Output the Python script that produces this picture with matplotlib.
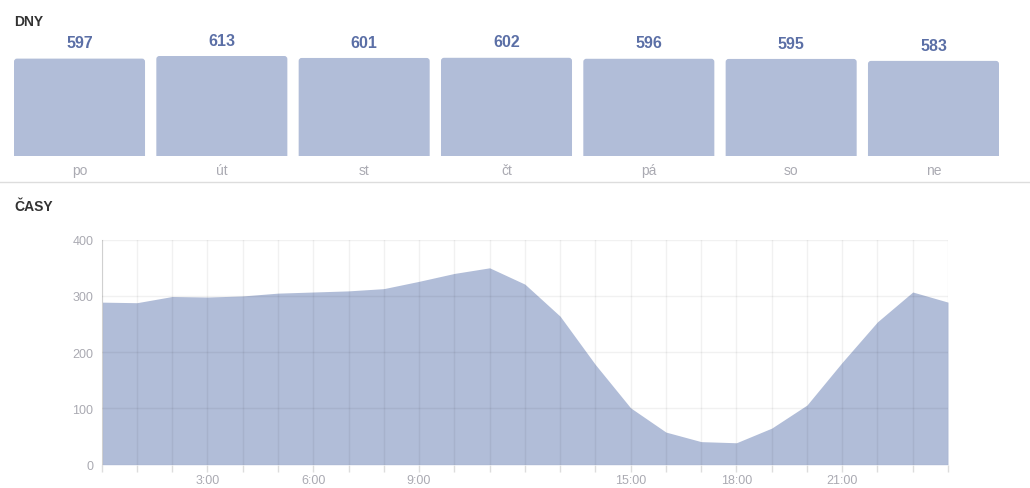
import numpy as np
import matplotlib.pyplot as plt
from matplotlib.patches import FancyBboxPatch

# day totals (po..ne)
days = ['po', 'út', 'st', 'čt', 'pá', 'so', 'ne']
day_counts = [597, 613, 601, 602, 596, 595, 583]

# hourly profile, 0:00 .. 24:00
hours = list(range(25))
hour_counts = [289, 288, 299, 298, 300, 305, 307, 309, 313, 326, 340, 350,
               321, 264, 178, 101, 58, 41, 39, 65, 106, 182, 254, 307, 289]
hour_labels = {3: '3:00', 6: '6:00', 9: '9:00', 15: '15:00', 18: '18:00', 21: '21:00'}

FILL = '#b1bdd8'
VALUE_COLOR = '#5b6fa6'
LABEL_GRAY = '#aaaab2'

plt.rcParams['font.family'] = ['Liberation Sans', 'DejaVu Sans']

W, H = 1030, 489
fig = plt.figure(figsize=(W / 100, H / 100), dpi=100)


def box(x0, y0, x1, y1):
    # pixel box (top-left origin) -> figure fraction rect
    return [x0 / W, 1 - y1 / H, (x1 - x0) / W, (y1 - y0) / H]


# ---- days ----
bar_w = 131 / 142.3
ax1 = fig.add_axes(box(14, 57, 999, 157))
x = np.arange(len(days))
bars = ax1.bar(x, day_counts, width=bar_w, color=FILL, linewidth=0)
ax1.set_xlim(-bar_w / 2, len(days) - 1 + bar_w / 2)
ax1.set_ylim(0, max(day_counts))

# swap plain rectangles for ones with rounded top corners
xpp = (len(days) - 1 + bar_w) / 985      # data x per pixel
ypp = max(day_counts) / 100               # data y per pixel
for b in bars:
    bx, bw, bh = b.get_x(), b.get_width(), b.get_height()
    b.set_visible(False)
    ax1.add_patch(FancyBboxPatch((bx, -6 * ypp), bw, bh + 6 * ypp,
                                 boxstyle=f'round,pad=0,rounding_size={3 * xpp}',
                                 mutation_aspect=ypp / xpp,
                                 color=FILL, linewidth=0))

for xi, v in zip(x, day_counts):
    ax1.annotate(str(v), (xi, v), xytext=(0, 6), textcoords='offset points',
                 ha='center', va='bottom', fontsize=11.5, fontweight='bold',
                 color=VALUE_COLOR, annotation_clip=False)
ax1.set_xticks(x)
ax1.set_xticklabels(days, fontsize=10, color=LABEL_GRAY)
ax1.tick_params(axis='x', length=0, pad=5)
ax1.set_yticks([])
for s in ax1.spines.values():
    s.set_visible(False)

fig.text(14 / W, 1 - 22 / H, 'DNY', fontsize=10, fontweight='bold',
         color='#333333', va='center', ha='left')
fig.add_artist(plt.Line2D([0, 1], [1 - 182.5 / H] * 2, color='#dddddd', lw=1))
fig.text(14 / W, 1 - 207 / H, 'ČASY', fontsize=10, fontweight='bold',
         color='#333333', va='center', ha='left')

# ---- hours ----
ax2 = fig.add_axes(box(101.7, 240.7, 948, 465.7))
ax2.fill_between(hours, hour_counts, 0, color=FILL, linewidth=0, zorder=1)
ax2.set_xlim(0, 24)
ax2.set_ylim(0, 400)
ax2.set_xticks(hours)
ax2.set_xticklabels([hour_labels.get(h, '') for h in hours])
ax2.set_yticks(range(0, 401, 100))
ax2.grid(True, color='black', alpha=0.055, lw=1, zorder=2)
ax2.set_axisbelow(False)
ax2.tick_params(axis='x', length=5, width=1, color='#dddddd', pad=2,
                labelsize=9, labelcolor=LABEL_GRAY)
ax2.tick_params(axis='y', length=0, pad=6, labelsize=9, labelcolor=LABEL_GRAY)
for name, s in ax2.spines.items():
    s.set_visible(name == 'left')
ax2.spines['left'].set_color('#dddddd')

fig.savefig('out.png', dpi=100)
